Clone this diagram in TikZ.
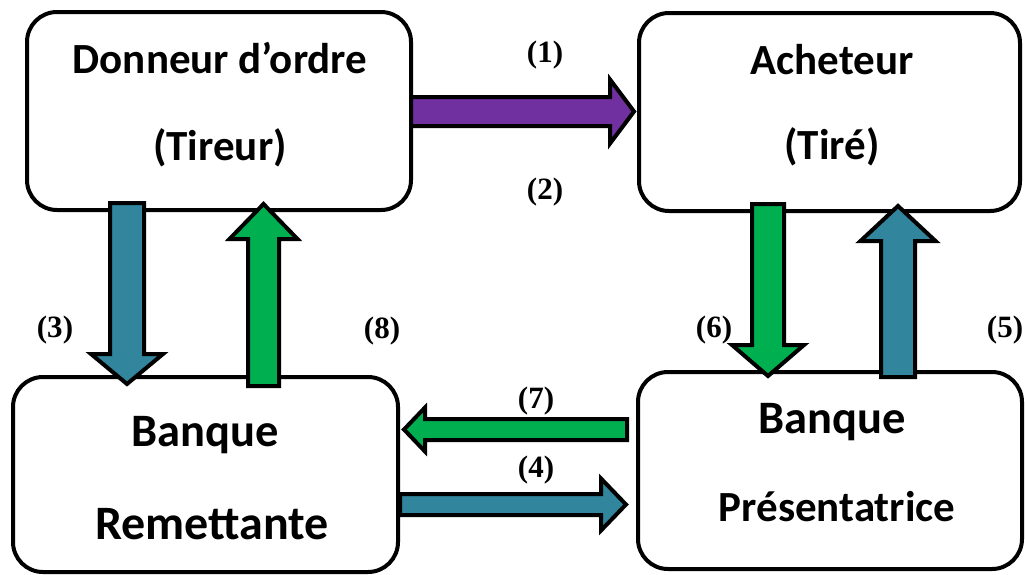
\documentclass[tikz,border=0pt]{standalone}
\usepackage{fontspec}
\setmainfont{Carlito}
\newfontfamily\labfont{Liberation Serif}
\begin{document}
\begin{tikzpicture}[x=1pt,y=-1pt,
  box/.style={draw=black,line width=4pt,rounded corners=30pt,fill=white,inner sep=0pt},
  boxtxt/.style={anchor=base,inner sep=0pt,font=\bfseries\fontsize{43}{50}\selectfont},
  lab/.style={inner sep=0pt,font=\labfont\bfseries\fontsize{31}{36}\selectfont},
  blk/.style={draw=black,line width=4pt,line join=miter,miter limit=10},
  purp/.style={blk,fill=cpurple},
  blu/.style={blk,fill=cblue},
  grn/.style={blk,fill=cgreen}]
\definecolor{cpurple}{HTML}{7030A0}
\definecolor{cblue}{HTML}{31859C}
\definecolor{cgreen}{HTML}{00B050}
\useasboundingbox (0,0) rectangle (1025,574);
% boxes
\node[box,minimum width=384pt,minimum height=198pt] (don) at (219,111) {};
\node[box,minimum width=381pt,minimum height=198pt] (ach) at (829.5,112) {};
\node[box,minimum width=385pt,minimum height=195pt] (rem) at (205.5,474.5) {};
\node[box,minimum width=384pt,minimum height=197pt] (pre) at (830,470.5) {};
% texts
\node[boxtxt] (t1) at (220,73) {Donneur d’ordre};
\node[boxtxt] (t2) at (220,160) {(Tireur)};
\node[boxtxt] (t3) at (832,74) {Acheteur};
\node[boxtxt] (t4) at (832,159) {(Tiré)};
\node[boxtxt,font=\bfseries\fontsize{46.5}{54}\selectfont] (t5) at (205,446) {Banque};
\node[boxtxt,font=\bfseries\fontsize{48}{56}\selectfont] (t6) at (212,539) {Remettante};
\node[boxtxt,font=\bfseries\fontsize{46.5}{54}\selectfont] (t7) at (832.5,433) {Banque};
\node[boxtxt,font=\bfseries\fontsize{43}{50}\selectfont] (t8) at (837,521) {Présentatrice};
% arrows
% (1) purple right
\draw[purp] (411,97) -- (610,97) -- (610,79.5) -- (634,111.5) -- (610,143.5) -- (610,126) -- (411,126) -- cycle;
% (3) blue down
\draw[blu] (110,203) -- (144,203) -- (144,354) -- (163,354) -- (127,384) -- (91,354) -- (110,354) -- cycle;
% (8) green up
\draw[grn] (248,386) -- (279,386) -- (279,239) -- (297.5,239) -- (263.5,204) -- (229.5,239) -- (248,239) -- cycle;
% (6) green down
\draw[grn] (752,204) -- (784,204) -- (784,345) -- (804,345) -- (768,376) -- (732,345) -- (752,345) -- cycle;
% (5) blue up
\draw[blu] (881,377) -- (915,377) -- (915,241) -- (935.5,241) -- (898,206) -- (860.5,241) -- (881,241) -- cycle;
% (7) green left
\draw[grn] (627,419) -- (425,419) -- (425,407.5) -- (404,429.5) -- (425,451.5) -- (425,440) -- (627,440) -- cycle;
% (4) blue right
\draw[blu] (400,494) -- (601,494) -- (601,478.5) -- (626,504.5) -- (601,530.5) -- (601,515) -- (400,515) -- cycle;
% labels
\node[lab] (l1) at (545,55) {(1)};
\node[lab] (l2) at (545,192) {(2)};
\node[lab] (l3) at (55,330) {(3)};
\node[lab] (l8) at (382,331) {(8)};
\node[lab] (l6) at (714,330) {(6)};
\node[lab] (l5) at (1005,330) {(5)};
\node[lab] (l7) at (536,401) {(7)};
\node[lab] (l4) at (536,470) {(4)};
\end{tikzpicture}
\end{document}
